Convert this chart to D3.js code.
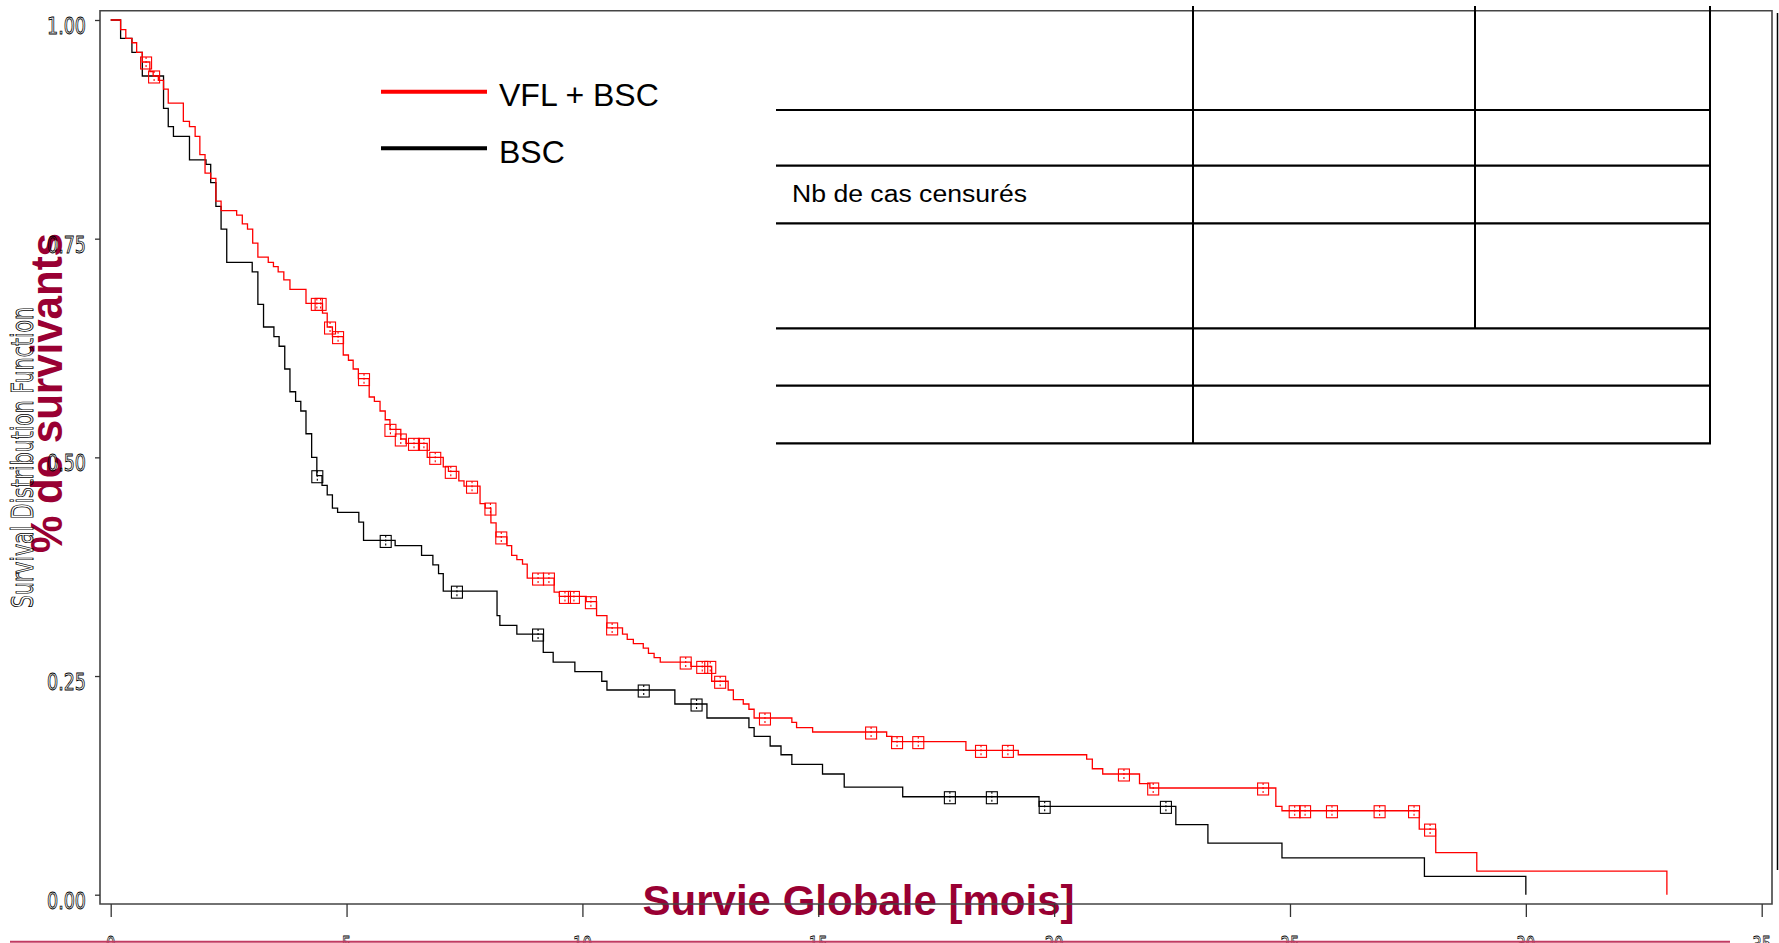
<!DOCTYPE html>
<html>
<head>
<meta charset="utf-8">
<script src="https://cdn.jsdelivr.net/npm/d3@7"></script>
<style>
  html, body { margin: 0; padding: 0; background: #fff; }
  svg { display: block; }
</style>
</head>
<body>
<svg id="chart" width="1779" height="943"></svg>
<script>
// ---- Kaplan-Meier data (time in months, survival proportion) ----
const seriesNames = ["VFL + BSC", "BSC"];

const redTimes = [0, 0.21, 0.32, 0.45, 0.55, 0.67, 0.83, 0.90, 1.01, 1.12, 1.22, 1.54, 1.67, 1.79, 1.89, 2.00, 2.12, 2.23, 2.34, 2.67, 2.79, 2.90, 3.01, 3.12, 3.34, 3.45, 3.55, 3.67, 3.80, 4.14, 4.49, 4.59, 4.70, 4.93, 5.04, 5.14, 5.25, 5.48, 5.59, 5.71, 5.82, 5.92, 6.15, 6.26, 6.71, 7.05, 7.16, 7.38, 7.49, 7.83, 7.94, 8.06, 8.17, 8.40, 8.50, 8.61, 8.73, 8.83, 9.40, 9.51, 10.08, 10.30, 10.52, 10.85, 10.95, 11.08, 11.29, 11.40, 11.52, 11.65, 12.30, 12.74, 13.09, 13.20, 13.41, 13.53, 13.64, 14.44, 14.54, 14.88, 16.45, 16.56, 18.13, 19.24, 20.69, 20.81, 21.03, 21.81, 22.03, 24.70, 24.83, 27.74, 28.09, 28.96, 32.99];
const redSurv = [1, 0.989, 0.979, 0.974, 0.963, 0.952, 0.941, 0.936, 0.931, 0.921, 0.905, 0.884, 0.878, 0.867, 0.846, 0.825, 0.819, 0.793, 0.782, 0.777, 0.767, 0.761, 0.745, 0.729, 0.723, 0.718, 0.712, 0.703, 0.692, 0.676, 0.665, 0.649, 0.638, 0.617, 0.611, 0.601, 0.590, 0.569, 0.564, 0.553, 0.543, 0.532, 0.521, 0.516, 0.500, 0.489, 0.484, 0.473, 0.467, 0.447, 0.442, 0.425, 0.409, 0.399, 0.388, 0.383, 0.378, 0.362, 0.346, 0.341, 0.335, 0.319, 0.305, 0.298, 0.292, 0.287, 0.282, 0.276, 0.271, 0.266, 0.261, 0.244, 0.234, 0.223, 0.218, 0.212, 0.202, 0.197, 0.191, 0.186, 0.181, 0.175, 0.165, 0.160, 0.155, 0.144, 0.138, 0.127, 0.122, 0.101, 0.096, 0.075, 0.048, 0.027, 0];
const redCensor = [0.75, 0.92, 4.37, 4.45, 4.65, 4.82, 5.37, 5.93, 6.15, 6.43, 6.64, 6.88, 7.21, 7.66, 8.05, 8.28, 9.06, 9.29, 9.63, 9.82, 10.18, 10.63, 12.19, 12.54, 12.71, 12.92, 13.87, 16.12, 16.67, 17.12, 18.45, 19.02, 21.48, 22.10, 24.43, 25.10, 25.32, 25.89, 26.90, 27.63, 27.97];

const blackTimes = [0, 0.21, 0.45, 0.67, 1.12, 1.22, 1.33, 1.67, 2.02, 2.12, 2.23, 2.34, 2.46, 3.00, 3.12, 3.24, 3.46, 3.57, 3.69, 3.80, 3.92, 4.03, 4.14, 4.26, 4.37, 4.48, 4.59, 4.70, 4.81, 5.26, 5.36, 6.03, 6.59, 6.83, 6.95, 7.05, 8.19, 8.25, 8.61, 9.17, 9.38, 9.84, 10.41, 10.52, 11.96, 12.64, 13.53, 13.64, 13.98, 14.21, 14.44, 15.09, 15.55, 16.79, 19.68, 22.58, 23.26, 24.83, 27.85, 30.00];
const blackSurv = [1, 0.979, 0.963, 0.936, 0.899, 0.878, 0.867, 0.840, 0.835, 0.814, 0.787, 0.761, 0.723, 0.712, 0.675, 0.649, 0.638, 0.627, 0.601, 0.575, 0.564, 0.553, 0.527, 0.500, 0.479, 0.468, 0.457, 0.442, 0.437, 0.426, 0.405, 0.399, 0.388, 0.377, 0.367, 0.347, 0.319, 0.308, 0.298, 0.277, 0.266, 0.255, 0.244, 0.234, 0.218, 0.202, 0.191, 0.181, 0.170, 0.160, 0.149, 0.138, 0.123, 0.112, 0.101, 0.080, 0.059, 0.042, 0.021, 0];
const blackCensor = [4.38, 5.83, 7.34, 9.06, 11.30, 12.42, 17.79, 18.68, 19.80, 22.37];

const xTicks = [0, 5, 10, 15, 20, 25, 30, 35];
const yTicks = [0, 0.25, 0.5, 0.75, 1];
const yTickLabels = ["0.00", "0.25", "0.50", "0.75", "1.00"];

const xTitle = "Survie Globale [mois]";
const yTitle = "% de survivants";
const yInnerTitle = "Survival Distribution Function";
const tableLabel = "Nb de cas censurés";

// ---- drawing ----
const svg = d3.select("#chart");
svg.append("rect").attr("width", 1779).attr("height", 943).attr("fill", "#fff");

const x = d3.scaleLinear().domain([0, 35]).range([110.7, 1761.7]);
const y = d3.scaleLinear().domain([0, 1]).range([894.7, 20]);

const frame = { left: 100, top: 10.7, right: 1772, bottom: 904 };
const titleColor = "#990033";
const hollowFont = "'DejaVu Sans', sans-serif";

// big red axis titles (drawn first, the axis draws over them)
svg.append("text")
  .attr("x", (642 + 1075) / 2).attr("y", 915)
  .attr("text-anchor", "middle")
  .attr("font-family", "'Liberation Sans', Arial, sans-serif")
  .attr("font-weight", "bold").attr("font-size", 43)
  .attr("textLength", 432).attr("lengthAdjust", "spacingAndGlyphs")
  .attr("fill", titleColor).text(xTitle);

svg.append("text")
  .attr("transform", "translate(62,393) rotate(-90)")
  .attr("text-anchor", "middle")
  .attr("font-family", "'Liberation Sans', Arial, sans-serif")
  .attr("font-weight", "bold").attr("font-size", 44)
  .attr("textLength", 320).attr("lengthAdjust", "spacingAndGlyphs")
  .attr("fill", titleColor).text(yTitle);

// hollow inner axis title
svg.append("text")
  .attr("transform", "translate(33,457.5) rotate(-90)")
  .attr("text-anchor", "middle")
  .attr("font-family", hollowFont).attr("font-size", 31)
  .attr("textLength", 301).attr("lengthAdjust", "spacingAndGlyphs")
  .attr("fill", "none").attr("stroke", "#000").attr("stroke-width", 0.9)
  .text(yInnerTitle);

// plot frame
svg.append("path")
  .attr("d", `M${frame.left},${frame.bottom}V${frame.top}H${frame.right}V${frame.bottom}Z`)
  .attr("fill", "none").attr("stroke", "#444").attr("stroke-width", 1.6);
svg.append("line")
  .attr("x1", 1777.5).attr("x2", 1777.5).attr("y1", 13).attr("y2", 870)
  .attr("stroke", "#000").attr("stroke-width", 1.5);

// axes
const xAxis = d3.axisBottom(x).tickValues(xTicks).tickSize(13).tickSizeOuter(0).tickFormat("");
const gx = svg.append("g").attr("transform", `translate(0,${frame.bottom})`).call(xAxis);
gx.select(".domain").remove();
gx.selectAll(".tick line").attr("stroke", "#333").attr("stroke-width", 1.3);

const yAxis = d3.axisLeft(y).tickValues(yTicks).tickSize(5).tickSizeOuter(0).tickFormat("");
const gy = svg.append("g").attr("transform", `translate(${frame.left},0)`).call(yAxis);
gy.select(".domain").remove();
gy.selectAll(".tick line").attr("stroke", "#333").attr("stroke-width", 1.3);

// hollow tick labels
svg.append("g").selectAll("text").data(yTicks).join("text")
  .attr("x", 86).attr("y", d => y(d) + 14)
  .attr("text-anchor", "end")
  .attr("font-family", hollowFont).attr("font-size", 23)
  .attr("textLength", 39).attr("lengthAdjust", "spacingAndGlyphs")
  .attr("fill", "none").attr("stroke", "#000").attr("stroke-width", 0.9)
  .text((d, i) => yTickLabels[i]);

svg.append("g").selectAll("text").data(xTicks).join("text")
  .attr("x", d => x(d)).attr("y", 953)
  .attr("text-anchor", "middle")
  .attr("font-family", hollowFont).attr("font-size", 23)
  .attr("textLength", d => String(d).length * 9.5).attr("lengthAdjust", "spacingAndGlyphs")
  .attr("fill", "none").attr("stroke", "#000").attr("stroke-width", 0.9)
  .text(d => d);

// survival curves
const stepLine = d3.line().x(d => x(d[0])).y(d => y(d[1])).curve(d3.curveStepAfter);
const survAt = (times, surv, t) => surv[Math.max(0, d3.bisectRight(times, t) - 1)];

function drawSeries(times, surv, censor, color) {
  const pts = times.map((t, i) => [t, surv[i]]);
  svg.append("path").datum(pts)
    .attr("d", stepLine)
    .attr("fill", "none").attr("stroke", color).attr("stroke-width", 1.3);
  const g = svg.append("g").attr("stroke", color).attr("fill", "none").attr("stroke-width", 1.1);
  const marks = g.selectAll("g").data(censor).join("g")
    .attr("transform", t => `translate(${x(t)},${y(survAt(times, surv, t))})`);
  marks.append("rect").attr("x", -5.5).attr("y", -5).attr("width", 11).attr("height", 12);
  marks.append("line").attr("x1", 0).attr("x2", 0).attr("y1", -5).attr("y2", 7)
    .attr("stroke-dasharray", "2,2");
}
drawSeries(blackTimes, blackSurv, blackCensor, "#000");
drawSeries(redTimes, redSurv, redCensor, "#ff0000");

// legend
const legendColors = ["#ff0000", "#000"];
const legend = svg.append("g");
seriesNames.forEach((name, i) => {
  const ly = 91.7 + i * 56.5;
  legend.append("line").attr("x1", 381).attr("x2", 487).attr("y1", ly).attr("y2", ly)
    .attr("stroke", legendColors[i]).attr("stroke-width", 4);
  legend.append("text").attr("x", 499).attr("y", ly + 14.5)
    .attr("font-family", "'Liberation Sans', Arial, sans-serif").attr("font-size", 32)
    .attr("fill", "#000").text(name);
});

// summary table grid
const table = svg.append("g").attr("stroke", "#000");
const rowLines = [110, 165.7, 223.3, 328.3, 385.7, 443.3];
rowLines.forEach(ry => {
  table.append("line").attr("x1", 776).attr("x2", 1711).attr("y1", ry).attr("y2", ry).attr("stroke-width", 2.2);
});
[[1193, 443.3], [1475, 328.3], [1710, 443.3]].forEach(([cx, yb]) => {
  table.append("line").attr("x1", cx).attr("x2", cx).attr("y1", 6).attr("y2", yb).attr("stroke-width", 2);
});
svg.append("text").attr("x", 792).attr("y", 202)
  .attr("font-family", "'Liberation Sans', Arial, sans-serif").attr("font-size", 23)
  .attr("textLength", 235).attr("lengthAdjust", "spacingAndGlyphs")
  .attr("fill", "#000").text(tableLabel);

// bottom rule
svg.append("line").attr("x1", 10).attr("x2", 1730).attr("y1", 941.7).attr("y2", 941.7)
  .attr("stroke", "#c23b62").attr("stroke-width", 2);
</script>
</body>
</html>
